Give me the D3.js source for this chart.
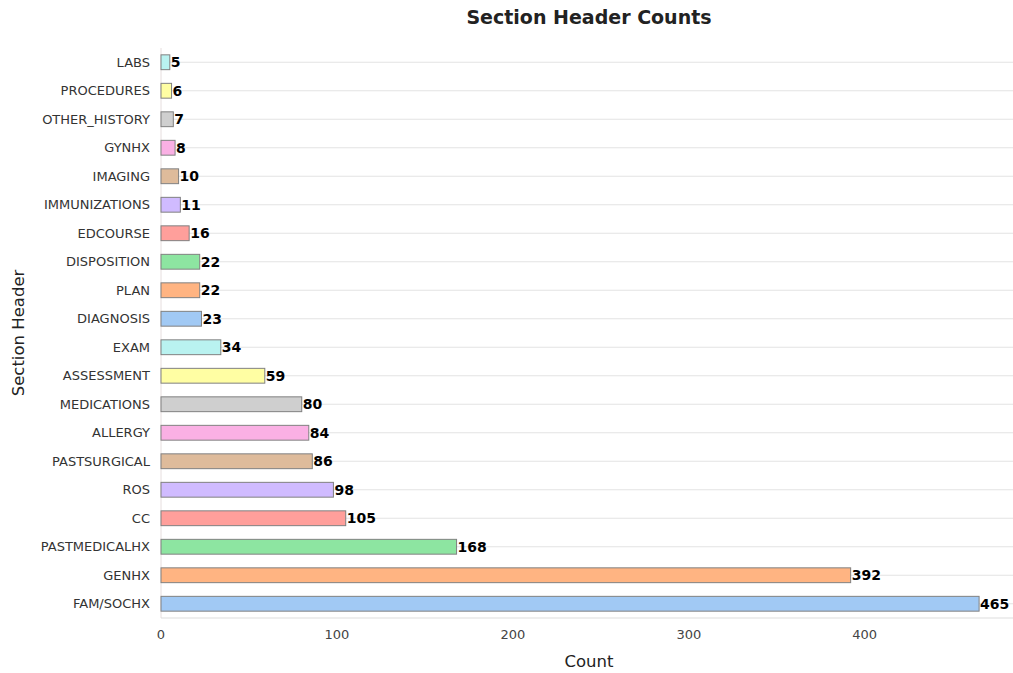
<!DOCTYPE html>
<html>
<head>
<meta charset="utf-8">
<script src="https://cdn.jsdelivr.net/npm/d3@7"></script>
<style>
  body { margin: 0; background: #fff; }
  svg { display: block; }
  text { font-family: "DejaVu Sans", sans-serif; }
</style>
</head>
<body>
<svg id="chart" width="1013" height="673"></svg>
<script>
// section headers, top to bottom
var categories = ['LABS', 'PROCEDURES', 'OTHER_HISTORY', 'GYNHX', 'IMAGING', 'IMMUNIZATIONS',
  'EDCOURSE', 'DISPOSITION', 'PLAN', 'DIAGNOSIS', 'EXAM', 'ASSESSMENT', 'MEDICATIONS',
  'ALLERGY', 'PASTSURGICAL', 'ROS', 'CC', 'PASTMEDICALHX', 'GENHX', 'FAM/SOCHX'];
var counts = [5, 6, 7, 8, 10, 11, 16, 22, 22, 23, 34, 59, 80, 84, 86, 98, 105, 168, 392, 465];
var xTicks = [0, 100, 200, 300, 400];
// seaborn pastel, applied from the bottom bar upward
var pastel = ['#a1c9f4', '#ffb482', '#8de5a1', '#ff9f9b', '#d0bbff',
  '#debb9b', '#fab0e4', '#cfcfcf', '#fffea3', '#b9f2f0'];

var m = { top: 48, right: -7, bottom: 55, left: 161 };
var W = 1013, H = 673;
var iw = W - m.left - m.right;
var ih = H - m.top - m.bottom;

var svg = d3.select('#chart');
var g = svg.append('g').attr('transform', 'translate(' + m.left + ',' + m.top + ')');

var x = d3.scaleLinear().domain([0, 488.25]).range([0, iw]);
var y = d3.scaleBand().domain(categories).range([0, ih]).paddingInner(0.48).paddingOuter(0.24);
var n = categories.length;

// horizontal grid lines at each category
g.selectAll('line.grid')
  .data(categories)
  .enter()
  .append('line')
  .attr('class', 'grid')
  .attr('x1', 0).attr('x2', iw)
  .attr('y1', function (d) { return y(d) + y.bandwidth() / 2; })
  .attr('y2', function (d) { return y(d) + y.bandwidth() / 2; })
  .attr('stroke', '#e3e3e3')
  .attr('stroke-width', 1);

// spines
g.append('line').attr('x1', 0).attr('x2', 0).attr('y1', 0).attr('y2', ih)
  .attr('stroke', '#e6dede').attr('stroke-width', 1);
g.append('line').attr('x1', 0).attr('x2', iw).attr('y1', ih).attr('y2', ih)
  .attr('stroke', '#dddddd').attr('stroke-width', 1);

g.selectAll('rect.bar')
  .data(counts)
  .enter()
  .append('rect')
  .attr('class', 'bar')
  .attr('x', 0)
  .attr('y', function (d, i) { return y(categories[i]); })
  .attr('width', function (d) { return x(d); })
  .attr('height', y.bandwidth())
  .attr('fill', function (d, i) { return pastel[(n - 1 - i) % pastel.length]; })
  .attr('stroke', '#808080')
  .attr('stroke-width', 1);

// value labels
g.selectAll('text.val')
  .data(counts)
  .enter()
  .append('text')
  .attr('class', 'val')
  .attr('x', function (d) { return x(d) + 1; })
  .attr('y', function (d, i) { return y(categories[i]) + y.bandwidth() / 2; })
  .attr('dy', '0.35em')
  .attr('font-size', 14)
  .attr('font-weight', 'bold')
  .attr('fill', '#000')
  .text(function (d) { return d; });

// y tick labels
g.selectAll('text.ylab')
  .data(categories)
  .enter()
  .append('text')
  .attr('class', 'ylab')
  .attr('x', -11)
  .attr('y', function (d) { return y(d) + y.bandwidth() / 2; })
  .attr('dy', '0.35em')
  .attr('text-anchor', 'end')
  .attr('font-size', 13)
  .attr('fill', '#333')
  .text(function (d) { return d; });

// x tick labels
g.selectAll('text.xlab')
  .data(xTicks)
  .enter()
  .append('text')
  .attr('class', 'xlab')
  .attr('x', function (d) { return x(d); })
  .attr('y', ih + 21)
  .attr('text-anchor', 'middle')
  .attr('font-size', 13)
  .attr('fill', '#444')
  .text(function (d) { return d; });

svg.append('text')
  .attr('x', 589).attr('y', 24)
  .attr('text-anchor', 'middle')
  .attr('font-size', 19)
  .attr('font-weight', 'bold')
  .attr('fill', '#222')
  .text('Section Header Counts');

svg.append('text')
  .attr('x', 589).attr('y', 667)
  .attr('text-anchor', 'middle')
  .attr('font-size', 16.5)
  .attr('fill', '#222')
  .text('Count');

svg.append('text')
  .attr('transform', 'translate(24,333) rotate(-90)')
  .attr('text-anchor', 'middle')
  .attr('font-size', 16.5)
  .attr('fill', '#222')
  .text('Section Header');
</script>
</body>
</html>
